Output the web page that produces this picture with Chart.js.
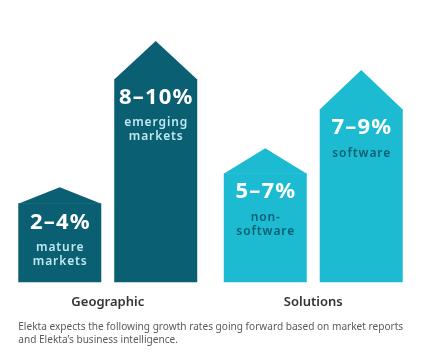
<!DOCTYPE html>
<html>
<head>
<meta charset="utf-8">
<script src="https://cdn.jsdelivr.net/npm/chart.js@4/dist/chart.umd.min.js"></script>
<style>
  html, body { margin: 0; padding: 0; background: #ffffff; }
  #wrap { width: 423px; height: 354px; }
</style>
</head>
<body>
<div id="wrap"><canvas id="c" width="423" height="354"></canvas></div>
<script>
// ---- data ----
const categories = ['Geographic', 'Solutions'];

// first bar of each group
const lowerRates = ['2–4%', '5–7%'];
const lowerNotes = [['mature', 'markets'], ['non-', 'software']];
const lowerHeights = [79, 109];   // shoulder height (arbitrary units)
const lowerPeaks = [95, 134];     // roof apex height

// second bar of each group
const upperRates = ['8–10%', '7–9%'];
const upperNotes = [['emerging', 'markets'], ['software']];
const upperHeights = [203, 173];
const upperPeaks = [241, 212];

const caption = [
  'Elekta expects the following growth rates going forward based on market reports',
  'and Elekta’s business intelligence.'
];

// ---- styles ----
const groupColors = ['#0b5f73', '#1cbbd2'];
const noteColors = ['#bfe8f0', '#0b5f73'];
const FONT = '"Noto Sans", "DejaVu Sans", sans-serif';

const rates = [lowerRates, upperRates];
const notes = [lowerNotes, upperNotes];
const peaks = [lowerPeaks, upperPeaks];

function spacedText(ctx, text, x, y, spacing) {
  if ('letterSpacing' in ctx) {
    ctx.letterSpacing = spacing + 'px';
    ctx.fillText(text, x + spacing / 2, y);
    ctx.letterSpacing = '0px';
  } else {
    ctx.fillText(text, x, y);
  }
}

const housePlugin = {
  id: 'house',
  afterDatasetsDraw(chart) {
    const ctx = chart.ctx;
    const yScale = chart.scales.y;
    chart.data.datasets.forEach((ds, di) => {
      const meta = chart.getDatasetMeta(di);
      meta.data.forEach((bar, i) => {
        const left = bar.x - bar.width / 2;
        const right = bar.x + bar.width / 2;
        const apex = yScale.getPixelForValue(peaks[di][i]);
        ctx.save();
        ctx.fillStyle = groupColors[i];
        ctx.beginPath();
        ctx.moveTo(left, bar.y + 0.5);
        ctx.lineTo(bar.x, apex);
        ctx.lineTo(right, bar.y + 0.5);
        ctx.closePath();
        ctx.fill();
        // labels
        ctx.textAlign = 'center';
        ctx.textBaseline = 'middle';
        ctx.fillStyle = '#ffffff';
        ctx.font = 'bold 22px ' + FONT;
        spacedText(ctx, rates[di][i], bar.x, bar.y + 19, 1.2);
        ctx.fillStyle = noteColors[i];
        ctx.font = '600 12px ' + FONT;
        notes[di][i].forEach((line, k) => {
          spacedText(ctx, line, bar.x, bar.y + 44 + k * 14, 0.9);
        });
        ctx.restore();
      });
    });
  },
  afterDraw(chart) {
    const ctx = chart.ctx;
    const first = chart.getDatasetMeta(0).data[0];
    const x0 = first.x - first.width / 2;
    const y0 = chart.chartArea.bottom + 45;
    ctx.save();
    ctx.fillStyle = '#5a5a5a';
    ctx.font = '10.1px ' + FONT;
    ctx.textAlign = 'left';
    ctx.textBaseline = 'middle';
    caption.forEach((line, k) => ctx.fillText(line, x0, y0 + k * 12.5));
    ctx.restore();
  }
};

new Chart(document.getElementById('c'), {
  type: 'bar',
  data: {
    labels: categories,
    datasets: [
      { label: 'first', data: lowerHeights, backgroundColor: groupColors, borderWidth: 0,
        categoryPercentage: 0.934, barPercentage: 0.865 },
      { label: 'second', data: upperHeights, backgroundColor: groupColors, borderWidth: 0,
        categoryPercentage: 0.934, barPercentage: 0.865 }
    ]
  },
  options: {
    responsive: false,
    animation: false,
    layout: { padding: { left: 5, right: 7, top: 32, bottom: 32 } },
    plugins: {
      legend: { display: false },
      tooltip: { enabled: false },
      title: { display: false }
    },
    scales: {
      x: {
        grid: { display: false, drawTicks: false },
        border: { display: false },
        ticks: { color: '#333333', padding: 12, font: { family: FONT, size: 13, weight: '600' } }
      },
      y: { display: false, min: 0, max: 250 }
    }
  },
  plugins: [housePlugin]
});
</script>
</body>
</html>
